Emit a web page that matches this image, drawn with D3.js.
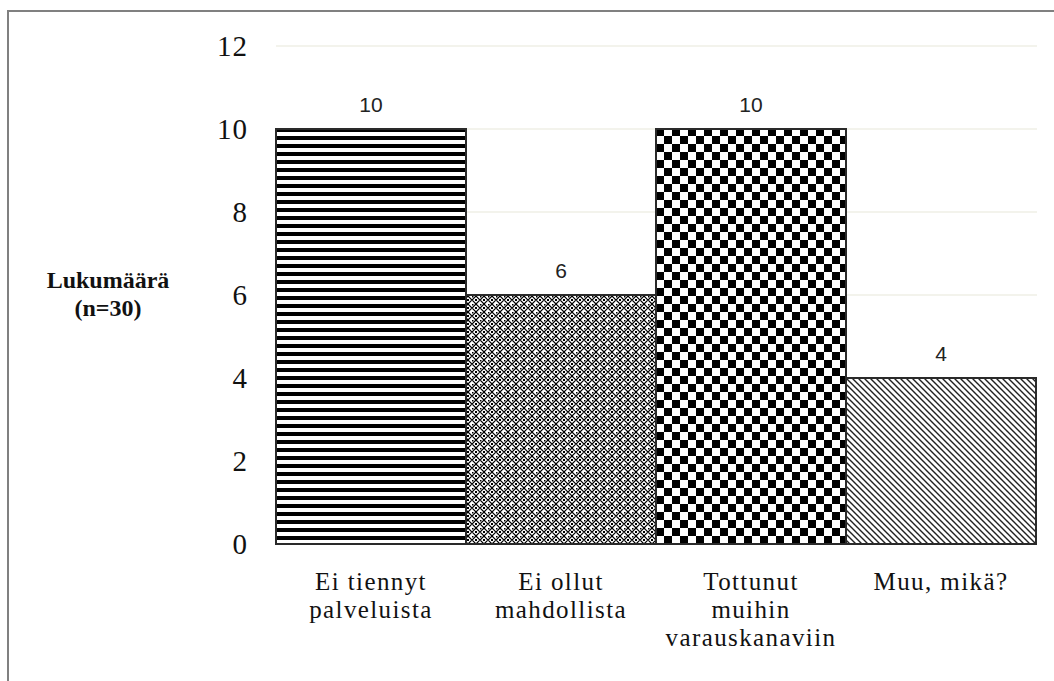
<!DOCTYPE html>
<html>
<head>
<meta charset="utf-8">
<script src="https://cdn.jsdelivr.net/npm/d3@7"></script>
<style>
  html, body { margin: 0; padding: 0; background: #fff; }
  svg { display: block; }
</style>
</head>
<body>
<svg id="chart" width="1054" height="681"></svg>
<script>
// Reasons for not using the service (count of respondents, n=30)
const categories = [
  ["Ei tiennyt", "palveluista"],
  ["Ei ollut", "mahdollista"],
  ["Tottunut", "muihin", "varauskanaviin"],
  ["Muu, mikä?"]
];
const counts = [10, 6, 10, 4];
const patternIds = ["stripes", "weave", "checker", "diag"];
const yTicks = [0, 2, 4, 6, 8, 10, 12];
const yTitle = ["Lukumäärä", "(n=30)"];

const svg = d3.select("#chart");
const W = 1054, H = 681;
const m = { left: 276, right: 1036, top: 46, bottom: 544 };
const serif = "'Liberation Serif', 'DejaVu Serif', serif";

// Outer frame (extends beyond the right and bottom edges)
svg.append("rect")
  .attr("x", 8).attr("y", 11)
  .attr("width", W).attr("height", H)
  .attr("fill", "none").attr("stroke", "#808080").attr("stroke-width", 2);

// Fill patterns
const defs = svg.append("defs");

const p1 = defs.append("pattern").attr("id", "stripes")
  .attr("patternUnits", "userSpaceOnUse").attr("width", 8).attr("height", 8);
p1.append("rect").attr("width", 8).attr("height", 8).attr("fill", "#fff");
p1.append("rect").attr("y", 0).attr("width", 8).attr("height", 4).attr("fill", "#000");

const p2 = defs.append("pattern").attr("id", "weave")
  .attr("patternUnits", "userSpaceOnUse").attr("width", 8).attr("height", 8);
p2.append("rect").attr("width", 8).attr("height", 8).attr("fill", "#fff");
p2.append("path").attr("d", "M0,4 L4,0 L8,4 L4,8 Z")
  .attr("fill", "none").attr("stroke", "#000").attr("stroke-width", 1.2);
p2.append("rect").attr("x", 3).attr("y", 3).attr("width", 2).attr("height", 2).attr("fill", "#000");
p2.append("rect").attr("x", 0).attr("y", 0).attr("width", 1.5).attr("height", 1.5).attr("fill", "#000");

const p3 = defs.append("pattern").attr("id", "checker")
  .attr("patternUnits", "userSpaceOnUse").attr("width", 16).attr("height", 16);
p3.append("rect").attr("width", 16).attr("height", 16).attr("fill", "#fff");
p3.append("rect").attr("x", 0).attr("y", 0).attr("width", 8).attr("height", 8).attr("fill", "#000");
p3.append("rect").attr("x", 8).attr("y", 8).attr("width", 8).attr("height", 8).attr("fill", "#000");

const p4 = defs.append("pattern").attr("id", "diag")
  .attr("patternUnits", "userSpaceOnUse").attr("width", 6).attr("height", 6);
p4.append("rect").attr("width", 6).attr("height", 6).attr("fill", "#fff");
p4.append("path").attr("d", "M-1,-1 L7,7 M-1,5 L1,7 M5,-1 L7,1")
  .attr("stroke", "#222").attr("stroke-width", 1.4);

// Scales
const x = d3.scaleBand()
  .domain(d3.range(categories.length))
  .range([m.left, m.right])
  .padding(0);
const y = d3.scaleLinear().domain([0, 12]).range([m.bottom, m.top]);

// Gridlines
svg.append("g")
  .selectAll("line")
  .data(yTicks.filter(t => t > 0))
  .join("line")
  .attr("x1", m.left).attr("x2", m.right + 1)
  .attr("y1", d => y(d)).attr("y2", d => y(d))
  .attr("stroke", "#efefe6").attr("stroke-width", 1.5);

// Y axis labels
const yAxis = d3.axisLeft(y).tickValues(yTicks).tickSize(0).tickPadding(0);
const gy = svg.append("g").attr("transform", "translate(248,0)").call(yAxis);
gy.select(".domain").remove();
gy.selectAll("text")
  .attr("font-family", serif)
  .attr("font-size", 29)
  .attr("letter-spacing", 1)
  .attr("fill", "#111")
  .attr("dy", "0.33em");

// Bars
svg.append("g")
  .selectAll("rect")
  .data(counts)
  .join("rect")
  .attr("x", (d, i) => x(i))
  .attr("y", d => y(d))
  .attr("width", x.bandwidth())
  .attr("height", d => y(0) - y(d))
  .attr("fill", (d, i) => `url(#${patternIds[i]})`)
  .attr("stroke", "#2a2a2a")
  .attr("stroke-width", 2);

// Value labels
svg.append("g")
  .selectAll("text")
  .data(counts)
  .join("text")
  .attr("x", (d, i) => x(i) + x.bandwidth() / 2)
  .attr("y", d => y(d) - 17)
  .attr("text-anchor", "middle")
  .attr("font-family", "'Liberation Sans', Arial, sans-serif")
  .attr("font-size", 21)
  .attr("fill", "#222")
  .text(d => d);

// Category labels
const gx = svg.append("g");
categories.forEach((lines, i) => {
  const t = gx.append("text")
    .attr("text-anchor", "middle")
    .attr("font-family", serif)
    .attr("font-size", 25)
    .attr("letter-spacing", 1.4)
    .attr("fill", "#111");
  lines.forEach((ln, j) => {
    t.append("tspan")
      .attr("x", x(i) + x.bandwidth() / 2)
      .attr("y", 590 + j * 28)
      .text(ln);
  });
});

// Y axis title
const tt = svg.append("text")
  .attr("text-anchor", "middle")
  .attr("font-family", serif)
  .attr("font-size", 24)
  .attr("font-weight", "bold")
  .attr("fill", "#111");
yTitle.forEach((ln, j) => {
  tt.append("tspan").attr("x", 108).attr("y", 288 + j * 28).text(ln);
});
</script>
</body>
</html>
